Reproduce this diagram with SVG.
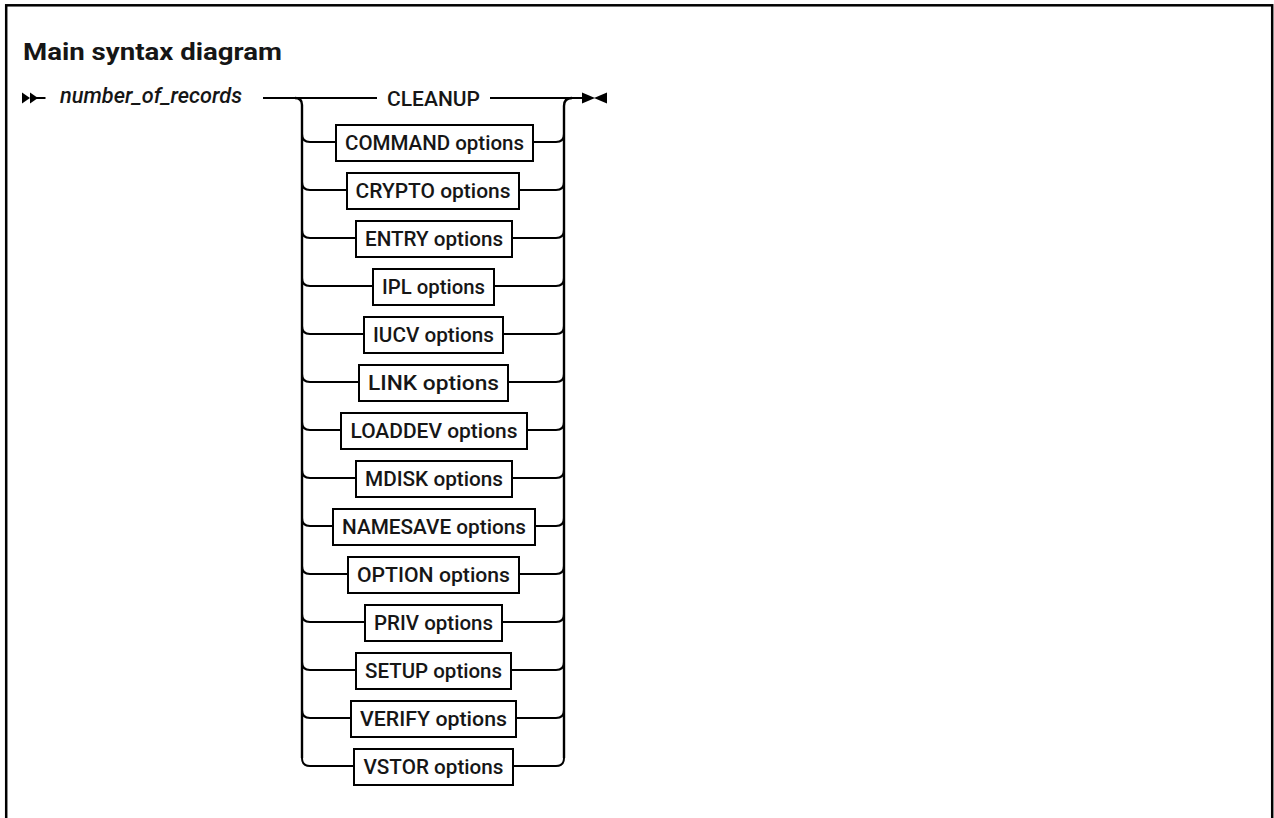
<svg xmlns="http://www.w3.org/2000/svg" width="1274" height="818" viewBox="0 0 1274 818">
<style>
.ln{fill:none;stroke:#000;stroke-width:2;stroke-linecap:butt}
.rail{fill:none;stroke:#000;stroke-width:2.4}
.box{fill:#fff;stroke:#000;stroke-width:2}
.lbl{font-family:Roboto,"Liberation Sans",Arial,sans-serif;font-weight:500;font-size:21px;fill:#161616;text-anchor:middle}
.mark{fill:#000}
</style>
<rect x="6.2" y="5.3" width="1266" height="900" fill="#fff" stroke="#000" stroke-width="2.5"/>
<text x="23" y="59.5" font-family="Roboto,'Liberation Sans',Arial,sans-serif" font-size="24" font-weight="bold" fill="#161616" textLength="259" lengthAdjust="spacingAndGlyphs">Main syntax diagram</text>
<g id="connectors">
<polygon class="mark" points="22,92.5 22,103.5 30,98"/>
<polygon class="mark" points="30,92.5 30,103.5 38,98"/>
<path class="ln" d="M36 98 H45.5"/>
<path class="ln" d="M263 98 H377 M490 98 H583"/>
<path class="rail" d="M295 98 Q302 98 302 105 V758"/>
<path class="rail" d="M564 758 V106 Q564 98 572 98"/>
<polygon class="mark" points="582,92.5 582,103.5 595,98"/>
<polygon class="mark" points="607,92.5 607,103.5 594,98"/>
<path class="ln" d="M302 134 Q302 142 310 142 H336 M533 142 H556 Q564 142 564 134"/>
<path class="ln" d="M302 182 Q302 190 310 190 H347 M519 190 H556 Q564 190 564 182"/>
<path class="ln" d="M302 230 Q302 238 310 238 H356 M512 238 H556 Q564 238 564 230"/>
<path class="ln" d="M302 278 Q302 286 310 286 H373 M494 286 H556 Q564 286 564 278"/>
<path class="ln" d="M302 326 Q302 334 310 334 H364 M503 334 H556 Q564 334 564 326"/>
<path class="ln" d="M302 374 Q302 382 310 382 H359 M508 382 H556 Q564 382 564 374"/>
<path class="ln" d="M302 422 Q302 430 310 430 H341 M527 430 H556 Q564 430 564 422"/>
<path class="ln" d="M302 470 Q302 478 310 478 H356 M512 478 H556 Q564 478 564 470"/>
<path class="ln" d="M302 518 Q302 526 310 526 H333 M535 526 H556 Q564 526 564 518"/>
<path class="ln" d="M302 566 Q302 574 310 574 H348 M519 574 H556 Q564 574 564 566"/>
<path class="ln" d="M302 614 Q302 622 310 622 H365 M502 622 H556 Q564 622 564 614"/>
<path class="ln" d="M302 662 Q302 670 310 670 H356 M511 670 H556 Q564 670 564 662"/>
<path class="ln" d="M302 710 Q302 718 310 718 H351 M516 718 H556 Q564 718 564 710"/>
<path class="ln" d="M302 758 Q302 766 310 766 H354 M513 766 H556 Q564 766 564 758"/>
</g>
<g id="node-start"><text x="60" y="103.3" font-family="Roboto,'Liberation Sans',Arial,sans-serif" font-size="21.5" font-weight="500" font-style="italic" fill="#161616" textLength="182" lengthAdjust="spacingAndGlyphs">number_of_records</text></g>
<g id="node-cleanup"><text class="lbl" x="433.5" y="105.5" textLength="93" lengthAdjust="spacingAndGlyphs">CLEANUP</text></g>
<g id="node-command"><rect class="box" x="336" y="125" width="197" height="36"/><text class="lbl" x="434.5" y="149.7" textLength="179" lengthAdjust="spacingAndGlyphs">COMMAND options</text></g>
<g id="node-crypto"><rect class="box" x="347" y="173" width="172" height="36"/><text class="lbl" x="433" y="197.7" textLength="155" lengthAdjust="spacingAndGlyphs">CRYPTO options</text></g>
<g id="node-entry"><rect class="box" x="356" y="221" width="156" height="36"/><text class="lbl" x="434" y="245.7" textLength="138" lengthAdjust="spacingAndGlyphs">ENTRY options</text></g>
<g id="node-ipl"><rect class="box" x="373" y="269" width="121" height="36"/><text class="lbl" x="433.5" y="293.7" textLength="103" lengthAdjust="spacingAndGlyphs">IPL options</text></g>
<g id="node-iucv"><rect class="box" x="364" y="317" width="139" height="36"/><text class="lbl" x="433.5" y="341.7" textLength="121" lengthAdjust="spacingAndGlyphs">IUCV options</text></g>
<g id="node-link"><rect class="box" x="359" y="365" width="149" height="36"/><text class="lbl" x="433.5" y="389.7" textLength="131" lengthAdjust="spacingAndGlyphs">LINK options</text></g>
<g id="node-loaddev"><rect class="box" x="341" y="413" width="186" height="36"/><text class="lbl" x="434" y="437.7" textLength="167" lengthAdjust="spacingAndGlyphs">LOADDEV options</text></g>
<g id="node-mdisk"><rect class="box" x="356" y="461" width="156" height="36"/><text class="lbl" x="434" y="485.7" textLength="138" lengthAdjust="spacingAndGlyphs">MDISK options</text></g>
<g id="node-namesave"><rect class="box" x="333" y="509" width="202" height="36"/><text class="lbl" x="434" y="533.7" textLength="184" lengthAdjust="spacingAndGlyphs">NAMESAVE options</text></g>
<g id="node-option"><rect class="box" x="348" y="557" width="171" height="36"/><text class="lbl" x="433.5" y="581.7" textLength="153" lengthAdjust="spacingAndGlyphs">OPTION options</text></g>
<g id="node-priv"><rect class="box" x="365" y="605" width="137" height="36"/><text class="lbl" x="433.5" y="629.7" textLength="119" lengthAdjust="spacingAndGlyphs">PRIV options</text></g>
<g id="node-setup"><rect class="box" x="356" y="653" width="155" height="36"/><text class="lbl" x="433.5" y="677.7" textLength="137" lengthAdjust="spacingAndGlyphs">SETUP options</text></g>
<g id="node-verify"><rect class="box" x="351" y="701" width="165" height="36"/><text class="lbl" x="433.5" y="725.7" textLength="147" lengthAdjust="spacingAndGlyphs">VERIFY options</text></g>
<g id="node-vstor"><rect class="box" x="354" y="749" width="159" height="36"/><text class="lbl" x="433.5" y="773.7" textLength="140" lengthAdjust="spacingAndGlyphs">VSTOR options</text></g>
</svg>
